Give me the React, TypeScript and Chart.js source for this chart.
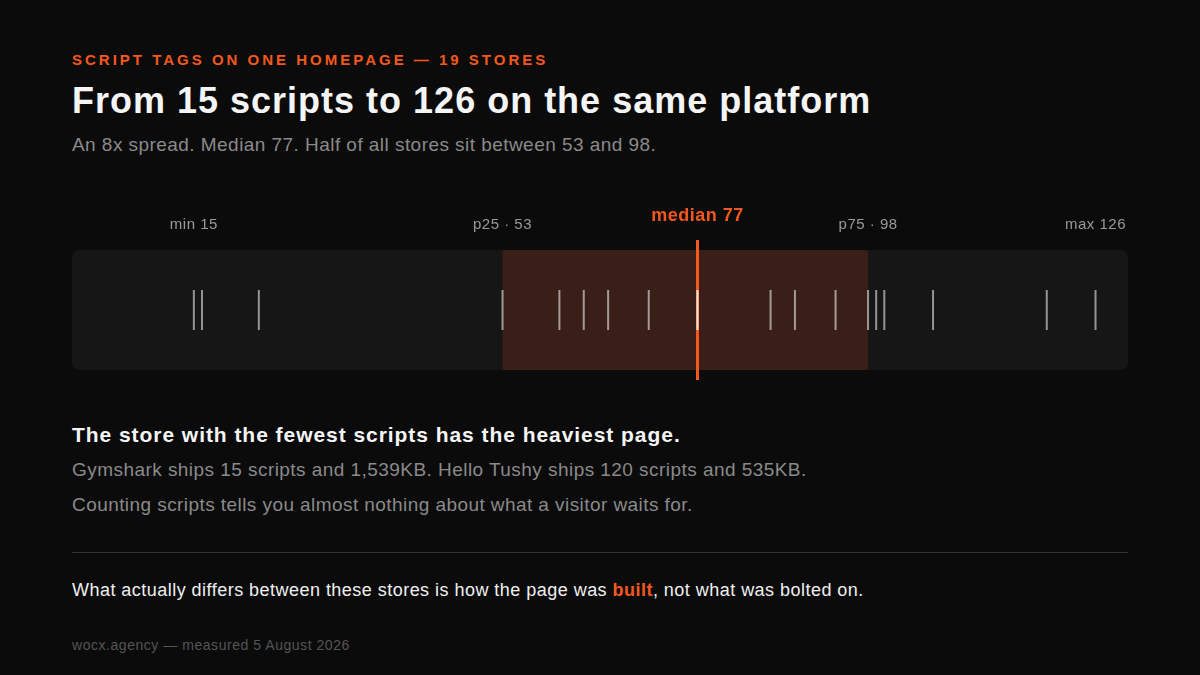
import React, { useEffect, useRef } from "react";
import { Chart, registerables } from "chart.js";

Chart.register(...registerables);

// ---- data ----
const storeScripts: number[] = [15, 16, 23, 53, 60, 63, 66, 71, 77, 77, 86, 89, 94, 98, 99, 100, 106, 120, 126];
const statValues: number[] = [15, 53, 77, 98, 126];
const statLabels: string[] = ["min 15", "p25 · 53", "median 77", "p75 · 98", "max 126"];
const axisRange: number[] = [0, 130];

const ORANGE = "#f4581f";
const FONT = '"Liberation Sans", Arial, Helvetica, sans-serif';

const stripPlugin = {
  id: "strip",
  beforeDatasetsDraw(chart: any) {
    const { ctx, scales } = chart;
    const x = scales.x;
    const y = scales.y;
    const left = x.getPixelForValue(axisRange[0]);
    const right = x.getPixelForValue(axisRange[1]);
    const top = y.getPixelForValue(55);
    const bottom = y.getPixelForValue(175);
    ctx.save();
    // track
    ctx.fillStyle = "#161616";
    ctx.beginPath();
    (ctx as any).roundRect(left, top, right - left, bottom - top, 8);
    ctx.fill();
    // IQR band
    const p25 = x.getPixelForValue(statValues[1]);
    const p75 = x.getPixelForValue(statValues[3]);
    ctx.fillStyle = "#3a1f18";
    ctx.beginPath();
    (ctx as any).roundRect(p25, top, p75 - p25, bottom - top, 2);
    ctx.fill();
    // median line
    const med = x.getPixelForValue(statValues[2]);
    ctx.strokeStyle = ORANGE;
    ctx.lineWidth = 3;
    ctx.beginPath();
    ctx.moveTo(med, y.getPixelForValue(45));
    ctx.lineTo(med, y.getPixelForValue(185));
    ctx.stroke();
    // labels
    ctx.textAlign = "center";
    ctx.textBaseline = "middle";
    (ctx as any).letterSpacing = "0.5px";
    statValues.forEach((v, i) => {
      const px = x.getPixelForValue(v);
      if (i === 2) {
        ctx.fillStyle = ORANGE;
        ctx.font = `bold 18px ${FONT}`;
        ctx.fillText(statLabels[i], px, y.getPixelForValue(21));
      } else {
        ctx.fillStyle = "#9a9a9a";
        ctx.font = `15px ${FONT}`;
        ctx.fillText(statLabels[i], px, y.getPixelForValue(30));
      }
    });
    ctx.restore();
  },
};

function StripChart() {
  const ref = useRef<HTMLCanvasElement | null>(null);
  useEffect(() => {
    if (!ref.current) return;
    const chart = new Chart(ref.current, {
      type: "scatter",
      data: {
        datasets: [
          {
            data: storeScripts.map((v) => ({ x: v, y: 115 })),
            pointStyle: "line",
            rotation: 90,
            radius: 20,
            hoverRadius: 20,
            borderWidth: 2,
            borderColor: "rgba(255,255,255,0.55)",
            backgroundColor: "rgba(255,255,255,0.55)",
            clip: false,
          } as any,
        ],
      },
      options: {
        animation: false,
        responsive: false,
        maintainAspectRatio: false,
        layout: { padding: 0, autoPadding: false },
        plugins: { legend: { display: false }, tooltip: { enabled: false } },
        scales: {
          x: { type: "linear", min: axisRange[0], max: axisRange[1], display: false },
          y: { type: "linear", min: 0, max: 195, reverse: true, display: false },
        },
      },
      plugins: [stripPlugin],
    });
    return () => chart.destroy();
  }, []);
  return (
    <canvas
      ref={ref}
      width={1056}
      height={195}
      style={{ position: "absolute", left: 72, top: 195, width: 1056, height: 195 }}
    />
  );
}

export default function App() {
  const abs = (top: number, extra: React.CSSProperties = {}): React.CSSProperties => ({
    position: "absolute",
    left: 72,
    top,
    margin: 0,
    whiteSpace: "nowrap",
    ...extra,
  });
  return (
    <div
      style={{
        position: "fixed",
        left: 0,
        top: 0,
        width: 1200,
        height: 675,
        background: "#0b0b0b",
        fontFamily: FONT,
        overflow: "hidden",
      }}
    >
      <div style={abs(51, { color: ORANGE, fontSize: 15, fontWeight: 700, letterSpacing: 3, lineHeight: "18px" })}>
        SCRIPT TAGS ON ONE HOMEPAGE — 19 STORES
      </div>
      <div style={abs(80, { color: "#f5f5f5", fontSize: 36, fontWeight: 700, letterSpacing: 1, lineHeight: "42px" })}>
        From 15 scripts to 126 on the same platform
      </div>
      <div style={abs(133, { color: "#8a8a8a", fontSize: 19, letterSpacing: 0.45, lineHeight: "24px" })}>
        An 8x spread. Median 77. Half of all stores sit between 53 and 98.
      </div>
      <StripChart />
      <div style={abs(422, { color: "#f5f5f5", fontSize: 21, fontWeight: 700, letterSpacing: 0.95, lineHeight: "26px" })}>
        The store with the fewest scripts has the heaviest page.
      </div>
      <div style={abs(458, { color: "#8a8a8a", fontSize: 19, letterSpacing: 0.45, lineHeight: "24px" })}>
        Gymshark ships 15 scripts and 1,539KB. Hello Tushy ships 120 scripts and 535KB.
      </div>
      <div style={abs(493, { color: "#8a8a8a", fontSize: 19, letterSpacing: 0.43, lineHeight: "24px" })}>
        Counting scripts tells you almost nothing about what a visitor waits for.
      </div>
      <div style={{ position: "absolute", left: 72, top: 552, width: 1056, height: 1, background: "#333333" }} />
      <div style={abs(578, { color: "#f0f0f0", fontSize: 18, letterSpacing: 0.47, lineHeight: "24px" })}>
        What actually differs between these stores is how the page was{" "}
        <span style={{ color: ORANGE, fontWeight: 700 }}>built</span>, not what was bolted on.
      </div>
      <div style={abs(636, { color: "#555555", fontSize: 14, letterSpacing: 0.54, lineHeight: "18px" })}>
        wocx.agency — measured 5 August 2026
      </div>
    </div>
  );
}
